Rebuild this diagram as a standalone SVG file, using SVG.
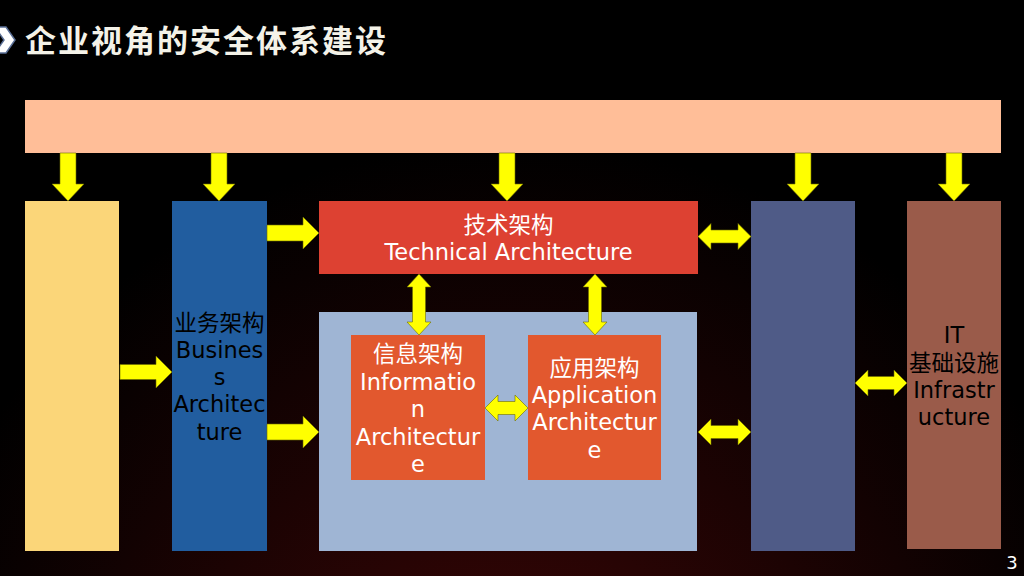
<svg xmlns="http://www.w3.org/2000/svg" width="1024" height="576" viewBox="0 0 1024 576">
  <defs>
    <radialGradient id="bg" cx="512" cy="760" r="620" gradientUnits="userSpaceOnUse">
      <stop offset="0" stop-color="#3e0606"/>
      <stop offset="0.55" stop-color="#1c0303"/>
      <stop offset="1" stop-color="#000000"/>
    </radialGradient>
  </defs>
  <style>
    .lbl { font-family: "DejaVu Sans", "Noto Sans CJK SC", sans-serif; font-size: 22.5px; text-anchor: middle; }
    .w { fill: #ffffff; }
    .k { fill: #000000; }
    .arrow { fill: #ffff00; stroke: #6b6b00; stroke-width: 0.6; }
  </style>
  <rect x="0" y="0" width="1024" height="576" fill="url(#bg)"/>

  <g id="title">
    <polygon points="-5,27 6,27 15,40 6,53 -5,53 4,40" fill="#ffffff" stroke="#5a6f96" stroke-width="1.5"/>
    <text x="25" y="52" font-family="'Noto Sans CJK SC', sans-serif" font-size="31" font-weight="bold" fill="#f4f2e8" letter-spacing="2">企业视角的安全体系建设</text>
  </g>

  <g id="top-band">
    <rect x="25" y="100" width="976" height="53" fill="#ffbe98"/>
  </g>

  <g id="left-yellow">
    <rect x="25" y="201" width="94" height="350" fill="#fbd679"/>
  </g>

  <g id="business">
    <rect x="172" y="201" width="95" height="350" fill="#215d9f"/>
    <text class="lbl k" x="219.5" y="331">业务架构</text>
    <text class="lbl k" x="219.5" y="358">Busines</text>
    <text class="lbl k" x="219.5" y="385">s</text>
    <text class="lbl k" x="219.5" y="412">Architec</text>
    <text class="lbl k" x="219.5" y="440">ture</text>
  </g>

  <g id="technical">
    <rect x="319" y="201" width="379" height="73" fill="#dd4132"/>
    <text class="lbl w" x="508.5" y="233">技术架构</text>
    <text class="lbl w" x="508.5" y="260">Technical Architecture</text>
  </g>

  <g id="container">
    <rect x="319" y="312" width="378" height="239" fill="#9fb5d4"/>
  </g>

  <g id="information">
    <rect x="351" y="335" width="134" height="145" fill="#e2582e"/>
    <text class="lbl w" x="418" y="362">信息架构</text>
    <text class="lbl w" x="418" y="390">Informatio</text>
    <text class="lbl w" x="418" y="417">n</text>
    <text class="lbl w" x="418" y="445">Architectur</text>
    <text class="lbl w" x="418" y="472">e</text>
  </g>

  <g id="application">
    <rect x="528" y="335" width="133" height="145" fill="#e2582e"/>
    <text class="lbl w" x="594.5" y="376">应用架构</text>
    <text class="lbl w" x="594.5" y="403">Application</text>
    <text class="lbl w" x="594.5" y="430">Architectur</text>
    <text class="lbl w" x="594.5" y="458">e</text>
  </g>

  <g id="slate">
    <rect x="751" y="201" width="104" height="350" fill="#4f5b87"/>
  </g>

  <g id="infrastructure">
    <rect x="907" y="201" width="94" height="348" fill="#9a5b4a"/>
    <text class="lbl k" x="954" y="343">IT</text>
    <text class="lbl k" x="954" y="371">基础设施</text>
    <text class="lbl k" x="954" y="398">Infrastr</text>
    <text class="lbl k" x="954" y="425">ucture</text>
  </g>

  <g id="connectors">
    <path class="arrow" d="M60,153 H76 V184 H84 L68,201 L52,184 H60 Z"/>
    <path class="arrow" d="M211,153 H227 V184 H235 L219,201 L203,184 H211 Z"/>
    <path class="arrow" d="M499,153 H515 V184 H523 L507,201 L491,184 H499 Z"/>
    <path class="arrow" d="M795,153 H811 V184 H819 L803,201 L787,184 H795 Z"/>
    <path class="arrow" d="M946,153 H962 V184 H970 L954,201 L938,184 H946 Z"/>
    <path class="arrow" d="M120,364.5 H156 V356 L172,372 L156,388 V379.5 H120 Z"/>
    <path class="arrow" d="M267,225 H303 V217 L319,233 L303,249 V241 H267 Z"/>
    <path class="arrow" d="M267,424 H303 V416 L319,432 L303,448 V440 H267 Z"/>
    <path class="arrow" d="M698,236.5 L711,223.5 V230 H738 V223.5 L751,236.5 L738,249.5 V243 H711 V249.5 Z"/>
    <path class="arrow" d="M698,432 L711,419 V425.5 H738 V419 L751,432 L738,445 V438.5 H711 V445 Z"/>
    <path class="arrow" d="M855,383 L868,370 V376.5 H894 V370 L907,383 L894,396 V389.5 H868 V396 Z"/>
    <path class="arrow" d="M485,408 L498,395 V401.5 H515 V395 L528,408 L515,421 V414.5 H498 V421 Z"/>
    <path class="arrow" d="M419,274 L431,287 H425.5 V322 H431 L419,335 L407,322 H412.5 V287 H407 Z"/>
    <path class="arrow" d="M595,274 L607,287 H601.5 V322 H607 L595,335 L583,322 H588.5 V287 H583 Z"/>
  </g>

  <g id="page-number">
    <text x="1012" y="569" font-family="'DejaVu Sans', sans-serif" font-size="18" fill="#ffffff" text-anchor="middle">3</text>
  </g>
</svg>
